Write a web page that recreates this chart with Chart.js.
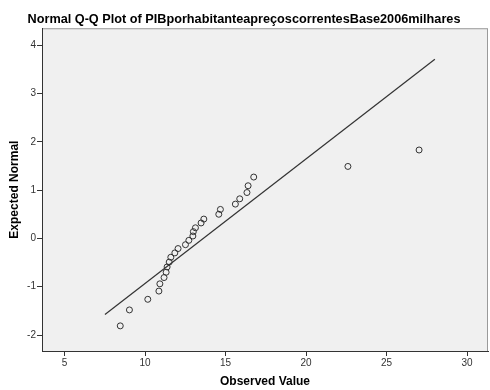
<!DOCTYPE html>
<html>
<head>
<meta charset="utf-8">
<script src="https://cdn.jsdelivr.net/npm/chart.js@4/dist/chart.umd.min.js"></script>
<style>
  html, body { margin: 0; padding: 0; background: #ffffff; overflow: hidden; }
  #wrap { width: 490px; height: 390px; }
  #qq { display: block; }
</style>
</head>
<body>
<div id="wrap"><canvas id="qq" width="490" height="390"></canvas></div>
<script>
const observed = [8.46, 9.03, 10.17, 10.86, 10.92, 11.18, 11.31, 11.37, 11.50, 11.60,
                  11.85, 12.05, 12.51, 12.72, 12.97, 13.00, 13.13, 13.48, 13.65, 14.58,
                  14.68, 15.61, 15.88, 16.33, 16.40, 16.75, 22.60, 27.02];
const expected = [-1.81, -1.48, -1.26, -1.09, -0.94, -0.81, -0.70, -0.59, -0.49, -0.39,
                  -0.30, -0.21, -0.13, -0.04, 0.05, 0.14, 0.22, 0.32, 0.40, 0.50,
                  0.60, 0.71, 0.82, 0.95, 1.09, 1.27, 1.49, 1.83];
// reference line end points
const refLineX = [7.51, 28.0];
const refLineY = [-1.575, 3.71];

const xTicks = [5, 10, 15, 20, 25, 30];
const yTicks = [-2, -1, 0, 1, 2, 3, 4];

// grey plot panel with a light frame
const plotBg = {
    id: 'plotBg',
    beforeDraw(chart) {
        const { ctx, chartArea: a } = chart;
        ctx.save();
        ctx.fillStyle = '#f0f0f0';
        ctx.fillRect(a.left, a.top, a.right - a.left, a.bottom - a.top);
        ctx.strokeStyle = '#9a9a9a';
        ctx.lineWidth = 1;
        ctx.strokeRect(a.left + 0.5, a.top + 0.5, a.right - a.left - 1, a.bottom - a.top);
        ctx.restore();
    }
};

const tickFont = { family: 'Arial, "Liberation Sans", sans-serif', size: 10 };
const titleFont = { family: 'Arial, "Liberation Sans", sans-serif', size: 12, weight: 'bold' };

new Chart(document.getElementById('qq'), {
    type: 'scatter',
    data: {
        datasets: [
            {
                type: 'line',
                data: refLineX.map((x, i) => ({ x: x, y: refLineY[i] })),
                borderColor: '#333333',
                borderWidth: 1.2,
                pointRadius: 0,
                fill: false
            },
            {
                data: observed.map((x, i) => ({ x: x, y: expected[i] })),
                pointStyle: 'circle',
                pointRadius: 3,
                borderColor: '#333333',
                borderWidth: 1,
                backgroundColor: 'rgba(0,0,0,0)'
            }
        ]
    },
    options: {
        responsive: false,
        animation: false,
        layout: { autoPadding: false, padding: { top: 0, right: 2, bottom: 0, left: 0 } },
        plugins: {
            legend: { display: false },
            tooltip: { enabled: false },
            title: {
                display: true,
                text: 'Normal Q-Q Plot of PIBporhabitanteapreçoscorrentesBase2006milhares',
                color: '#000000',
                font: { family: titleFont.family, size: 12.7, weight: 'bold' },
                padding: { top: 12, bottom: 1 }
            }
        },
        scales: {
            x: {
                type: 'linear',
                min: 3.6,
                max: 31.3,
                afterBuildTicks: (s) => { s.ticks = xTicks.map(v => ({ value: v })); },
                afterFit: (s) => { s.height = 39; s.paddingLeft = 0; s.paddingRight = 0; },
                ticks: { color: '#333333', font: tickFont, padding: 1, maxRotation: 0 },
                grid: { drawOnChartArea: false, drawTicks: true, tickLength: 5, color: '#333333' },
                border: { display: true, color: '#333333', width: 1 },
                title: {
                    display: true,
                    text: 'Observed Value',
                    color: '#000000',
                    font: titleFont,
                    padding: { top: 0, bottom: 1 }
                }
            },
            y: {
                type: 'linear',
                min: -2.33,
                max: 4.35,
                afterBuildTicks: (s) => { s.ticks = yTicks.map(v => ({ value: v })); },
                afterFit: (s) => { s.width = 42; s.paddingTop = 0; s.paddingBottom = 0; },
                ticks: { color: '#333333', font: tickFont, padding: 1 },
                grid: { drawOnChartArea: false, drawTicks: true, tickLength: 5, color: '#333333' },
                border: { display: true, color: '#333333', width: 1 },
                title: {
                    display: true,
                    text: 'Expected Normal',
                    color: '#000000',
                    font: titleFont,
                    padding: { top: 7, bottom: 0 }
                }
            }
        }
    },
    plugins: [plotBg]
});
</script>
</body>
</html>
